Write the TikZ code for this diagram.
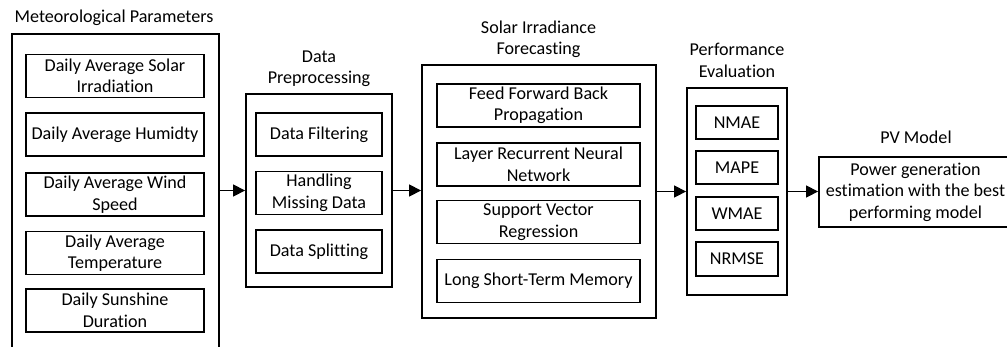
\documentclass[tikz,border=0pt]{standalone}
\usepackage{fontspec}
\setmainfont[Ligatures=NoCommon]{Carlito}
\usetikzlibrary{arrows.meta, positioning}

\tikzset{
  group/.style={draw, line width=1.8pt, inner sep=0pt},
  item/.style={draw, line width=1.8pt, align=center, inner sep=0pt, minimum height=43pt},
  caption/.style={align=center, inner sep=0pt},
  flow/.style={-{Triangle[length=12pt,width=12pt]}, line width=1.3pt}
}

\begin{document}
\begin{tikzpicture}[x=1pt, y=-1pt, font=\fontsize{18.1}{21.5}\selectfont]
  \useasboundingbox (0,0) rectangle (1007,346);
  \clip (0,0) rectangle (1007,346);

  % meteorological parameters
  \node[caption] (mettitle) at (114,18) {Meteorological Parameters};
  \node[group, minimum width=207pt, minimum height=326pt] (met) at (115.5,197) {};
  \node[item, minimum width=178pt] (solar) at (115,76) {Daily Average Solar\\Irradiation};
  \node[item, minimum width=178pt] (humid) at (115,134.5) {Daily Average Humidty};
  \node[item, minimum width=178pt] (wind) at (115,194.5) {Daily Average Wind\\Speed};
  \node[item, minimum width=178pt] (temp) at (115,253) {Daily Average\\Temperature};
  \node[item, minimum width=178pt] (sun) at (115,310.5) {Daily Sunshine\\Duration};

  % preprocessing
  \node[caption] (pretitle) at (319,68.5) {Data\\Preprocessing};
  \node[group, minimum width=146pt, minimum height=193pt] (pre) at (319,190.5) {};
  \node[item, minimum width=126pt] (filter) at (319,134.5) {Data Filtering};
  \node[item, minimum width=126pt] (missing) at (319,193) {Handling\\Missing Data};
  \node[item, minimum width=126pt] (split) at (319,251.5) {Data Splitting};

  % forecasting
  \node[caption] (fctitle) at (538.5,39.5) {Solar Irradiance\\Forecasting};
  \node[group, minimum width=234pt, minimum height=253pt] (fc) at (539,191.5) {};
  \node[item, minimum width=203pt] (ffbp) at (538.5,105.5) {Feed Forward Back\\Propagation};
  \node[item, minimum width=203pt] (lrnn) at (538.5,164.5) {Layer Recurrent Neural\\Network};
  \node[item, minimum width=203pt] (svr) at (538.5,222) {Support Vector\\Regression};
  \node[item, minimum width=203pt] (lstm) at (538.5,281) {Long Short-Term Memory};

  % evaluation
  \node[caption] (perftitle) at (737,60.5) {Performance\\Evaluation};
  \node[group, minimum width=100pt, minimum height=207pt] (perf) at (737,191.5) {};
  \node[item, minimum width=82pt, minimum height=33.5pt] (nmae) at (737,122.5) {NMAE};
  \node[item, minimum width=82pt, minimum height=33.5pt] (mape) at (737,167.5) {MAPE};
  \node[item, minimum width=82pt, minimum height=33.5pt] (wmae) at (737,213.5) {WMAE};
  \node[item, minimum width=82pt, minimum height=33.5pt] (nrmse) at (737,259) {NRMSE};

  % pv model
  \node[caption] (pvtitle) at (916,137) {PV Model};
  \node[item, minimum width=193pt, minimum height=70pt] (pv) at (915.5,192)
    {Power generation\\estimation with the best\\performing model};

  \draw[flow] (met.east |- pre.west) -- (pre.west);
  \draw[flow] (pre.east) -- (fc.west |- pre.east);
  \draw[flow] (fc.east) -- (perf.west);
  \draw[flow] (perf.east) -- (pv.west |- perf.east);
\end{tikzpicture}
\end{document}
